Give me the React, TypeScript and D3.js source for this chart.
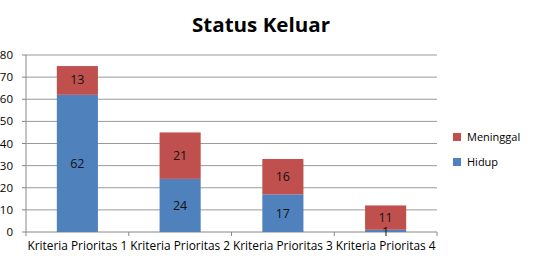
import React from "react";
import * as d3 from "d3";

const categories = ["Kriteria Prioritas 1", "Kriteria Prioritas 2", "Kriteria Prioritas 3", "Kriteria Prioritas 4"];
const hidup = [62, 24, 17, 1];
const meninggal = [13, 21, 16, 11];
const yTicks = [0, 10, 20, 30, 40, 50, 60, 70, 80];
const seriesNames = ["Meninggal", "Hidup"];

const W = 535, H = 256;
const left = 26, right = 437, top = 55, bottom = 232;
const BLUE = "#4F81BD", RED = "#C0504D";

export default function App() {
  const x = d3.scaleBand<string>().domain(categories).range([left, right]).paddingInner(0.6).paddingOuter(0.3);
  const xb = d3.scaleBand<string>().domain(categories).range([left, right]);
  const y = d3.scaleLinear().domain([0, 80]).range([bottom, top]);
  const font = "Open Sans, sans-serif";
  return (
    <svg width={W} height={H} style={{ position: "absolute", left: 0, top: 0 }}>
      <rect width={W} height={H} fill="#fff" />
      <text x={261} y={32} textAnchor="middle" fontFamily={font} fontWeight="bold" fontSize={20} fill="#000"
        textLength={138} lengthAdjust="spacingAndGlyphs">Status Keluar</text>
      {yTicks.map((t) => (
        <g key={t}>
          {t > 0 && <line x1={left} x2={right} y1={y(t)} y2={y(t)} stroke="#9a9a9a" strokeWidth={1} />}
          <line x1={left - 4} x2={left} y1={y(t)} y2={y(t)} stroke="#888" />
          <text x={13} y={y(t) + 4} textAnchor="end" fontFamily={font} fontSize={11.5} fill="#000">{t}</text>
        </g>
      ))}
      <line x1={left} x2={left} y1={top} y2={bottom} stroke="#888" />
      <line x1={left} x2={right} y1={bottom} y2={bottom} stroke="#888" />
      {categories.map((c) => (
        <line key={c} x1={xb(c)! + xb.bandwidth()} x2={xb(c)! + xb.bandwidth()} y1={bottom} y2={bottom + 4} stroke="#888" />
      ))}
      <line x1={left} x2={left} y1={bottom} y2={bottom + 4} stroke="#888" />
      {categories.map((c, i) => {
        const bx = x(c)!, bw = x.bandwidth();
        const h0 = hidup[i], m0 = meninggal[i];
        return (
          <g key={c}>
            <rect x={bx} y={y(h0)} width={bw} height={y(0) - y(h0)} fill={BLUE} />
            <rect x={bx} y={y(h0 + m0)} width={bw} height={y(h0) - y(h0 + m0)} fill={RED} />
            <text x={bx + bw / 2} y={(y(0) + y(h0)) / 2 + 5} textAnchor="middle" fontFamily={font} fontSize={12.5} fill="#111">{h0}</text>
            <text x={bx + bw / 2} y={(y(h0) + y(h0 + m0)) / 2 + 4} textAnchor="middle" fontFamily={font} fontSize={12.5} fill="#111">{m0}</text>
          </g>
        );
      })}
      {categories.map((c) => (
        <text key={c} x={xb(c)! + xb.bandwidth() / 2} y={250} textAnchor="middle" fontFamily={font} fontSize={12}
          textLength={100} lengthAdjust="spacingAndGlyphs" fill="#000">{c}</text>
      ))}
      {seriesNames.map((s, i) => (
        <g key={s}>
          <rect x={453} y={133 + i * 25} width={8} height={8} fill={i === 0 ? RED : BLUE} />
          <text x={467} y={141 + i * 25} fontFamily={font} fontSize={11} fill="#000">{s}</text>
        </g>
      ))}
    </svg>
  );
}
